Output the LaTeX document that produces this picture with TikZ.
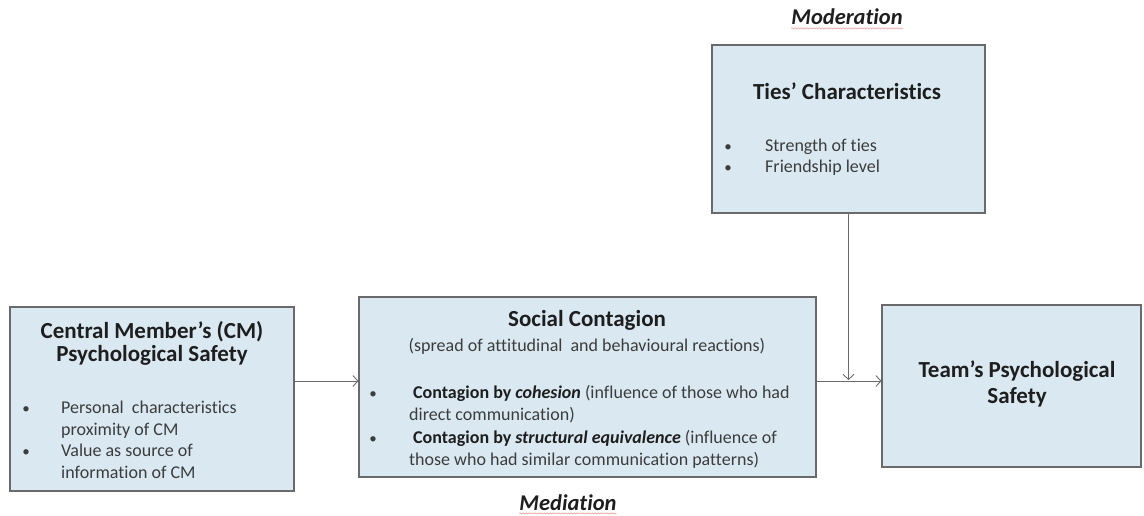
\documentclass[tikz,border=0pt]{standalone}
\usepackage{fontspec}
\setmainfont[Ligatures=NoCommon]{Carlito}
\usetikzlibrary{arrows.meta,decorations.pathmorphing}
\definecolor{boxfill}{HTML}{DAE9F1}
\definecolor{boxline}{HTML}{6A6A6A}
\definecolor{bodytext}{HTML}{3C3C3C}
\definecolor{titletext}{HTML}{1E1E1E}
\definecolor{squig}{HTML}{E8A0A0}
\tikzset{
  box/.style={draw=boxline, line width=1.1pt, fill=boxfill, inner sep=0pt},
  ttl/.style={inner sep=0pt, anchor=base, text=titletext, font=\fontsize{23}{27}\selectfont\bfseries},
  txt/.style={inner sep=0pt, anchor=base west, text=bodytext, font=\fontsize{18}{22}\selectfont},
  bul/.style={inner sep=0pt, anchor=base, text=bodytext, font=\fontsize{15}{18}\selectfont},
  lab/.style={inner sep=0pt, anchor=base, text=titletext, font=\fontsize{22.5}{27}\selectfont\bfseries\itshape},
  arr/.style={draw=boxline, line width=0.9pt, -{Straight Barb[length=5pt,width=11pt]}},
  wavy/.style={draw=squig, line width=0.6pt, decorate, decoration={snake, amplitude=0.6pt, segment length=3pt}}
}
\begin{document}
\begin{tikzpicture}[x=1pt,y=-1pt]
\useasboundingbox (0,0) rectangle (1144,516);
% boxes
\node[box, minimum width=284pt, minimum height=184pt] (b1) at (152,399) {};
\node[box, minimum width=457pt, minimum height=180pt] (b2) at (587.5,387) {};
\node[box, minimum width=273pt, minimum height=168pt] (b3) at (848.5,129) {};
\node[box, minimum width=259pt, minimum height=162pt] (b4) at (1011.5,386) {};
% box 1 text
\node[ttl] (t1a) at (152,338) {Central Member’s (CM)};
\node[ttl] (t1b) at (152,361) {Psychological Safety};
\node[bul] (u1a) at (26,413) {•};
\node[txt] (x1a) at (61,413) {Personal\ \ characteristics};
\node[txt] (x1b) at (61,435) {proximity of CM};
\node[bul] (u1b) at (26,456) {•};
\node[txt] (x1c) at (61,456) {Value as source of};
\node[txt] (x1d) at (61,478) {information of CM};
% box 2 text
\node[ttl] (t2a) at (587,326) {Social Contagion};
\node[txt, anchor=base] (t2b) at (587,351) {(spread of attitudinal\ \ and behavioural reactions)};
\node[bul] (u2a) at (373,398) {•};
\node[txt] (x2a) at (413,398) {\textbf{\textcolor{titletext}{Contagion by \textit{cohesion}}} (influence of those who had};
\node[txt] (x2b) at (409,420) {direct communication)};
\node[bul] (u2b) at (373,443) {•};
\node[txt] (x2c) at (413,443) {\textbf{\textcolor{titletext}{Contagion by \textit{structural equivalence}}} (influence of};
\node[txt] (x2d) at (409,465) {those who had similar communication patterns)};
% box 3 text
\node[ttl] (t3a) at (847,100) {Ties’ Characteristics};
\node[bul] (u3a) at (728,152) {•};
\node[txt] (x3a) at (765,152) {Strength of ties};
\node[bul] (u3b) at (728,173) {•};
\node[txt] (x3b) at (765,173) {Friendship level};
% box 4 text
\node[ttl] (t4a) at (1017,377) {Team’s Psychological};
\node[ttl] (t4b) at (1017,403) {Safety};
% labels
\node[lab] (mod) at (847,25) {Moderation};
\node[lab] (med) at (568,510) {Mediation};
\draw[wavy] ([yshift=-3pt]mod.south west) -- ([yshift=-3pt]mod.south east);
\draw[wavy] ([yshift=-3pt]med.south west) -- ([yshift=-3pt]med.south east);
% connectors
\coordinate (m) at (0,381);
\draw[arr] (b1.east |- m) -- (b2.west |- m);
\draw[arr] (b2.east |- m) -- (b4.west |- m);
\draw[arr] (b3.south) -- ([yshift=1pt]b3.south |- m);
\end{tikzpicture}
\end{document}
